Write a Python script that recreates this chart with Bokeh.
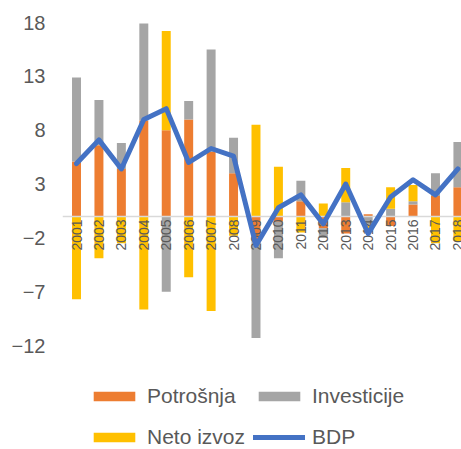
import numpy as np
from bokeh.plotting import figure
from bokeh.models import ColumnDataSource, Range1d, FixedTicker, Legend, LegendItem
from bokeh.core.properties import value
from bokeh.embed import file_html
from bokeh.resources import INLINE

years = ["2001", "2002", "2003", "2004", "2005", "2006", "2007", "2008", "2009",
         "2010", "2011", "2012", "2013", "2014", "2015", "2016", "2017", "2018"]
potrosnja = [5.1, 6.6, 4.4, 8.9, 8.0, 9.0, 6.0, 4.0, -2.1,
             -0.5, 1.4, -1.1, -1.6, 0.2, -0.9, 1.1, 1.9, 2.7]
investicije = [7.8, 4.2, 2.4, 9.0, -7.0, 1.7, 9.5, 3.3, -9.2,
               -3.4, 1.9, -0.9, 1.3, -0.9, 0.7, 0.3, 2.1, 4.2]
neto_izvoz = [-7.7, -3.9, -2.5, -8.65, 9.2, -5.65, -8.8, -1.8, 8.5,
              4.6, -1.5, 1.2, 3.2, -0.5, 2.0, 1.5, -2.5, -2.3]
bdp = [4.9, 7.1, 4.4, 9.0, 10.0, 5.0, 6.3, 5.6, -2.7,
       0.8, 2.0, -0.7, 3.0, -1.6, 1.8, 3.4, 2.0, 4.4]
y_ticks = [-12, -7, -2, 3, 8, 13, 18]

series = [("Potrošnja", potrosnja, "#ED7D31"),
          ("Investicije", investicije, "#A5A5A5"),
          ("Neto izvoz", neto_izvoz, "#FFC000")]

idx = np.arange(len(years))

# frame spans from the top tick down to the bottom of the figure, so that the
# legend (drawn inside the frame) is not clipped
p = figure(width=461, height=449, output_backend="svg", toolbar_location=None,
           x_range=Range1d(-0.624, 17.16), y_range=Range1d(-21.65, 18),
           min_border_left=62, min_border_right=0, min_border_top=22, min_border_bottom=0)
p.outline_line_color = None
p.grid.visible = False
p.xaxis.visible = False
p.yaxis.ticker = FixedTicker(ticks=y_ticks)
p.yaxis.axis_line_color = None
p.yaxis.major_tick_line_color = None
p.yaxis.minor_tick_line_color = None
p.yaxis.major_tick_out = 0
p.yaxis.major_tick_in = 0
p.yaxis.major_label_text_font = "Liberation Sans"
p.yaxis.major_label_text_font_size = "20px"
p.yaxis.major_label_text_color = "#595959"
p.yaxis.major_label_standoff = 17

pos_base = np.zeros(len(years))
neg_base = np.zeros(len(years))
bar_renderers = []
for name, vals, color in series:
    v = np.array(vals, dtype=float)
    bottom = np.where(v >= 0, pos_base, neg_base)
    top = bottom + v
    pos_base = np.where(v >= 0, top, pos_base)
    neg_base = np.where(v < 0, top, neg_base)
    src = ColumnDataSource(dict(x=idx, bottom=bottom, top=top))
    r = p.vbar(x="x", bottom="bottom", top="top", width=0.4, source=src,
               fill_color=color, line_color=None)
    bar_renderers.append((name, r))

p.hspan(y=[0], line_color="#D9D9D9", line_width=1.5)

p.text(x=idx, y=np.zeros(len(years)), text=years, angle=np.pi / 2,
       text_align="right", text_baseline="middle", y_offset=3,
       text_font=value("Liberation Sans"), text_font_size="14px", text_color="#595959")

line_r = p.line(x=idx, y=bdp, line_color="#4472C4", line_width=5,
                line_join="round", line_cap="round")

def make_legend(items, vy):
    lg = Legend(items=items, orientation="horizontal", location=(26, vy),
                glyph_width=52, glyph_height=12, label_standoff=7, spacing=6,
                label_width=100, padding=0, margin=0,
                border_line_color=None, background_fill_alpha=0,
                label_text_font="Liberation Sans", label_text_font_size="21px",
                label_text_color="#595959")
    return lg

leg1 = make_legend([LegendItem(label=bar_renderers[0][0], renderers=[bar_renderers[0][1]]),
                    LegendItem(label=bar_renderers[1][0], renderers=[bar_renderers[1][1]])], 41)
leg2 = make_legend([LegendItem(label=bar_renderers[2][0], renderers=[bar_renderers[2][1]]),
                    LegendItem(label="BDP", renderers=[line_r])], 0)
p.add_layout(leg1, "center")
p.add_layout(leg2, "center")

open("out.html", "w").write(file_html(p, INLINE))
